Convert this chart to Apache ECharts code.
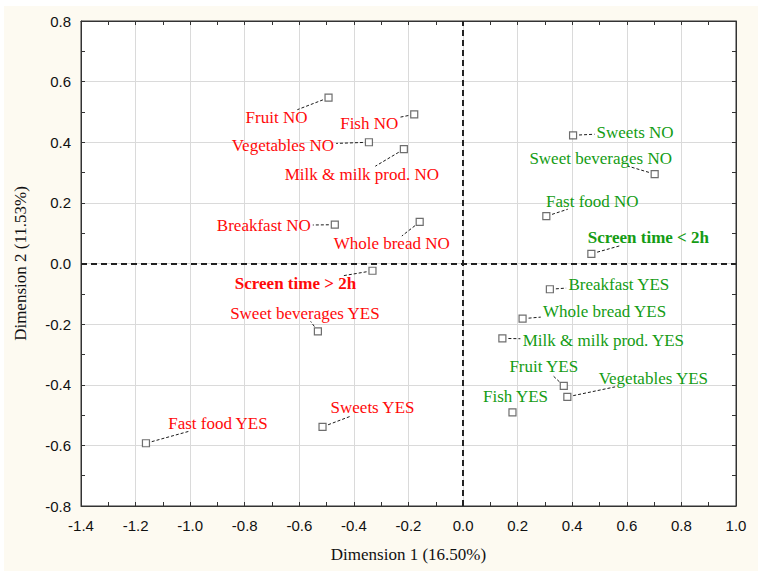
<!DOCTYPE html>
<html>
<head>
<meta charset="utf-8">
<script src="https://cdn.jsdelivr.net/npm/echarts@6/dist/echarts.min.js"></script>
<style>
html,body{margin:0;padding:0;background:#ffffff;}
#chart{position:absolute;left:4px;top:6px;width:754px;height:565px;background:#fdfaf1;}
</style>
</head>
<body>
<div id="chart"></div>
<script>
// ---- data ----
const redNames = ['Fruit NO','Fish NO','Vegetables NO','Milk & milk prod. NO','Breakfast NO','Whole bread NO','Screen time > 2h','Sweet beverages YES','Sweets YES','Fast food YES'];
const redX = [-0.493,-0.179,-0.345,-0.217,-0.470,-0.159,-0.332,-0.532,-0.515,-1.162];
const redY = [0.547,0.492,0.400,0.377,0.128,0.137,-0.024,-0.224,-0.539,-0.593];

const greenNames = ['Sweets NO','Sweet beverages NO','Fast food NO','Screen time < 2h','Breakfast YES','Whole bread YES','Milk & milk prod. YES','Fruit YES','Vegetables YES','Fish YES'];
const greenX = [0.403,0.702,0.305,0.470,0.318,0.218,0.144,0.369,0.382,0.181];
const greenY = [0.423,0.295,0.156,0.032,-0.085,-0.182,-0.247,-0.404,-0.440,-0.491];

const xTitle = 'Dimension 1 (16.50%)';
const yTitle = 'Dimension 2 (11.53%)';

// ---- label layout (pixel offsets of label centres from their points) ----
const redOffsets = [[-52,20],[-45,9],[-86,3],[-42,25],[-71,1],[-28,22],[-77,13],[-13,-18],[50,-19],[72,-20]];
const greenOffsets = [[62,-3],[-54,-16],[46,-15],[57,-16],[69,-5],[82,-7],[101,2],[-20,-19],[86,-18],[3,-16]];

const RED = '#ff0a0a';
const GREEN = '#149c14';
const SERIF = '"Liberation Serif", "Times New Roman", serif';
const SANS = '"Liberation Sans", Arial, sans-serif';
const LABEL_SIZE = 17;

const groups = [
  { names: redNames, xs: redX, ys: redY, offsets: redOffsets, color: RED },
  { names: greenNames, xs: greenX, ys: greenY, offsets: greenOffsets, color: GREEN }
];

const measureCtx = document.createElement('canvas').getContext('2d');
function isBold(n) { return n.indexOf('Screen time') === 0; }
function textWidth(n) {
  measureCtx.font = (isBold(n) ? 'bold ' : '') + LABEL_SIZE + 'px ' + SERIF;
  return measureCtx.measureText(n).width;
}

function pointsOf(g) {
  return g.names.map((n, i) => ({ name: n, value: [g.xs[i], g.ys[i]] }));
}

function markerSeries(g) {
  return {
    type: 'scatter',
    symbol: 'rect',
    symbolSize: 7,
    itemStyle: { color: '#ffffff', borderColor: '#4a4a4a', borderWidth: 1.2 },
    emphasis: { disabled: true },
    silent: true,
    z: 3,
    data: pointsOf(g)
  };
}

function labelSeries(g) {
  return {
    type: 'custom',
    coordinateSystem: 'cartesian2d',
    encode: { x: 0, y: 1 },
    silent: true,
    clip: false,
    z: 4,
    data: pointsOf(g),
    renderItem: function (params, api) {
      const i = params.dataIndex;
      const name = g.names[i];
      const c = api.coord([api.value(0), api.value(1)]);
      const o = g.offsets[i];
      const cx = c[0] + o[0], cy = c[1] + o[1];
      const w = textWidth(name), h = 14;
      const bx0 = cx - w / 2 - 2, bx1 = cx + w / 2 + 2, by0 = cy - h / 2 - 1, by1 = cy + h / 2 + 1;
      const dx = cx - c[0], dy = cy - c[1];
      let tEnter = 0;
      [[bx0, bx1, c[0], dx], [by0, by1, c[1], dy]].forEach(function (s) {
        if (Math.abs(s[3]) > 1e-9) {
          const t1 = (s[0] - s[2]) / s[3], t2 = (s[1] - s[2]) / s[3];
          tEnter = Math.max(tEnter, Math.min(t1, t2));
        }
      });
      const len = Math.sqrt(dx * dx + dy * dy);
      const ux = dx / len, uy = dy / len;
      const startD = 6, endD = tEnter * len;
      const children = [];
      if (endD - startD > 4) {
        children.push({
          type: 'line',
          shape: { x1: c[0] + ux * startD, y1: c[1] + uy * startD, x2: c[0] + ux * endD, y2: c[1] + uy * endD },
          style: { stroke: '#1a1a1a', lineWidth: 1, lineDash: [3, 2] }
        });
      }
      children.push({
        type: 'text',
        x: cx, y: cy,
        style: {
          text: name,
          fill: g.color,
          font: (isBold(name) ? 'bold ' : '') + LABEL_SIZE + 'px ' + SERIF,
          align: 'center', verticalAlign: 'middle',
          textAlign: 'center', textVerticalAlign: 'middle'
        }
      });
      return { type: 'group', children: children };
    }
  };
}

const axisCommonX = {
  type: 'value', min: -1.4, max: 1.0, interval: 0.2,
  axisLine: { show: true, onZero: false, lineStyle: { color: '#333', width: 1 } },
  axisTick: { show: true, inside: true, length: 4, lineStyle: { color: '#333' } },
  minorTick: { show: true, splitNumber: 2, length: 4, lineStyle: { color: '#333' } }
};
const axisCommonY = {
  type: 'value', min: -0.8, max: 0.8, interval: 0.2,
  axisLine: { show: true, onZero: false, lineStyle: { color: '#333', width: 1 } },
  axisTick: { show: true, inside: true, length: 4, lineStyle: { color: '#333' } },
  minorTick: { show: true, splitNumber: 2, length: 4, lineStyle: { color: '#333' } }
};

const chart = echarts.init(document.getElementById('chart'), null, { renderer: 'svg' });
const firstMarkers = markerSeries(groups[0]);
firstMarkers.markLine = {
  silent: true,
  symbol: 'none',
  label: { show: false },
  lineStyle: { color: '#222', width: 2, type: [6, 4] },
  data: [{ xAxis: 0 }, { yAxis: 0 }]
};
chart.setOption({
  animation: false,
  backgroundColor: '#fdfaf1',
  grid: { left: 74, top: 15, right: 22, bottom: 65, show: true, backgroundColor: '#ffffff', borderColor: '#333', borderWidth: 1 },
  xAxis: [
    Object.assign({}, axisCommonX, {
      position: 'bottom',
      name: xTitle, nameLocation: 'middle', nameGap: 40,
      nameTextStyle: { fontFamily: SERIF, fontSize: 17, color: '#111' },
      axisLabel: { fontFamily: SANS, fontSize: 15, color: '#111', margin: 12, formatter: v => v.toFixed(1) },
      splitLine: { show: true, lineStyle: { color: '#dadada', width: 1 } }
    }),
    Object.assign({}, axisCommonX, {
      position: 'top',
      axisLabel: { show: false },
      splitLine: { show: false }
    })
  ],
  yAxis: [
    Object.assign({}, axisCommonY, {
      position: 'left',
      name: yTitle, nameLocation: 'middle', nameGap: 52,
      nameTextStyle: { fontFamily: SERIF, fontSize: 17, color: '#111' },
      axisLabel: { fontFamily: SANS, fontSize: 15, color: '#111', margin: 10, formatter: v => v.toFixed(1) },
      splitLine: { show: true, lineStyle: { color: '#dadada', width: 1 } }
    }),
    Object.assign({}, axisCommonY, {
      position: 'right',
      axisLabel: { show: false },
      splitLine: { show: false }
    })
  ],
  series: [
    firstMarkers,
    markerSeries(groups[1]),
    labelSeries(groups[0]),
    labelSeries(groups[1])
  ]
});
</script>
</body>
</html>
